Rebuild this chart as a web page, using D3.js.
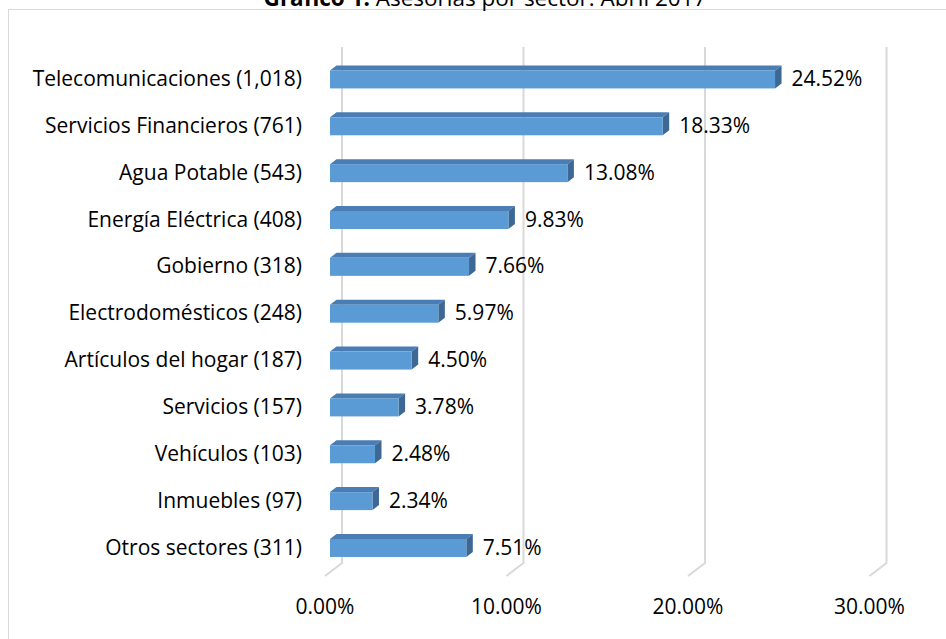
<!DOCTYPE html>
<html>
<head>
<meta charset="utf-8">
<script src="https://cdn.jsdelivr.net/npm/d3@7"></script>
<style>
  body { margin: 0; background: #fff; }
  svg { display: block; }
</style>
</head>
<body>
<div id="chart"></div>
<script>
const sectors = ["Telecomunicaciones", "Servicios Financieros", "Agua Potable", "Energía Eléctrica",
  "Gobierno", "Electrodomésticos", "Artículos del hogar", "Servicios", "Vehículos", "Inmuebles", "Otros sectores"];
const counts = [1018, 761, 543, 408, 318, 248, 187, 157, 103, 97, 311];
const shares = [24.52, 18.33, 13.08, 9.83, 7.66, 5.97, 4.50, 3.78, 2.48, 2.34, 7.51];
const ticks = [0, 10, 20, 30];

const width = 946;
const height = 639;
const font = "'Open Sans', 'Noto Sans', sans-serif";
const fontSize = "21px";

const data = sectors.map((s, i) => ({ name: s, label: `${s} (${d3.format(",")(counts[i])})`, value: shares[i] }));

// front plane of the bars
const x = d3.scaleLinear().domain([0, 30]).range([330, 874.5]);
const y = d3.scaleBand()
  .domain(data.map(d => d.label))
  .range([56, 571.4])
  .paddingInner(0.616)
  .paddingOuter(0.308);

// depth offsets (3D look)
const wall = { dx: 12, dy: -5 };   // back wall relative to bar front
const floorFront = -5;             // floor front edge relative to bar front
const barDepth = { dx: 6.5, dy: -5 };

const svg = d3.select("#chart").append("svg")
  .attr("width", width)
  .attr("height", height);

// outer frame
svg.append("rect")
  .attr("x", 8.5).attr("y", 9.5)
  .attr("width", width).attr("height", height)
  .attr("fill", "none")
  .attr("stroke", "#d9d9d9")
  .attr("stroke-width", 1);

// title (cut at top, as in the source image)
const title = svg.append("text")
  .attr("x", 485).attr("y", 6)
  .attr("text-anchor", "middle")
  .attr("font-family", font)
  .attr("font-size", "22.5px")
  .attr("fill", "#000");
title.append("tspan").attr("font-weight", "bold").text("Gráfico 1.");
title.append("tspan").text(" Asesorías por sector. Abril 2017");

// gridlines: back wall + floor
const grid = svg.append("g");
grid.selectAll("path")
  .data(ticks)
  .join("path")
  .attr("d", t => {
    const bx = x(t) + wall.dx;
    return `M${bx},47 L${bx},563 L${bx - 17},576`;
  })
  .attr("fill", "none")
  .attr("stroke", "#d9d9d9")
  .attr("stroke-width", 2);

// axis labels
svg.append("g").selectAll("text")
  .data(ticks)
  .join("text")
  .attr("x", t => x(t) + floorFront)
  .attr("y", 614)
  .attr("text-anchor", "middle")
  .attr("font-family", font)
  .attr("font-size", fontSize)
  .attr("fill", "#000")
  .text(t => d3.format(".2f")(t) + "%");

// bars
const bars = svg.append("g").selectAll("g")
  .data(data)
  .join("g");

// top face
bars.append("path")
  .attr("d", d => {
    const x0 = x(0), x1 = x(d.value), y0 = y(d.label);
    return `M${x0},${y0} L${x0 + barDepth.dx},${y0 + barDepth.dy} L${x1 + barDepth.dx},${y0 + barDepth.dy} L${x1},${y0} Z`;
  })
  .attr("fill", "#4a7db3");

// side face
bars.append("path")
  .attr("d", d => {
    const x1 = x(d.value), y0 = y(d.label), y1 = y0 + y.bandwidth();
    return `M${x1},${y0} L${x1 + barDepth.dx},${y0 + barDepth.dy} L${x1 + barDepth.dx},${y1 + barDepth.dy} L${x1},${y1} Z`;
  })
  .attr("fill", "#3e6894");

// front face
bars.append("rect")
  .attr("x", x(0))
  .attr("y", d => y(d.label))
  .attr("width", d => x(d.value) - x(0))
  .attr("height", y.bandwidth())
  .attr("fill", "#5b9bd5");

// value labels
bars.append("text")
  .attr("x", d => x(d.value) + barDepth.dx + 10)
  .attr("y", d => y(d.label) + y.bandwidth() / 2 + 1)
  .attr("dominant-baseline", "middle")
  .attr("font-family", font)
  .attr("font-size", fontSize)
  .attr("fill", "#000")
  .text(d => d3.format(".2f")(d.value) + "%");

// category labels
bars.append("text")
  .attr("x", 302)
  .attr("y", d => y(d.label) + y.bandwidth() / 2 + 1)
  .attr("dominant-baseline", "middle")
  .attr("text-anchor", "end")
  .attr("font-family", font)
  .attr("font-size", fontSize)
  .attr("fill", "#000")
  .text(d => d.label);
</script>
</body>
</html>
